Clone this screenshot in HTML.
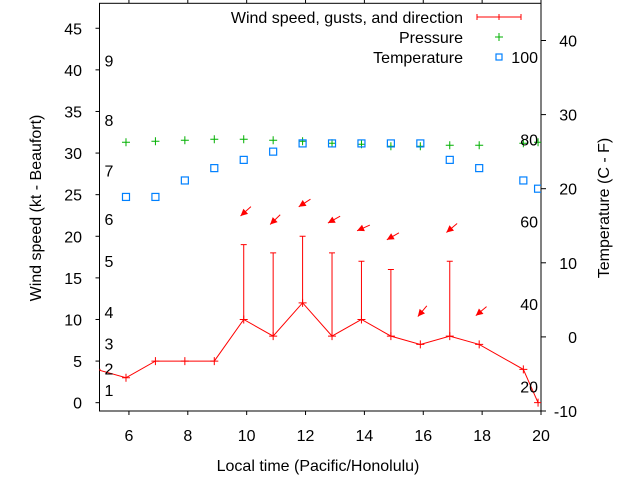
<!DOCTYPE html>
<html><head><meta charset="utf-8"><style>
html,body{margin:0;padding:0;background:#fff}
svg{display:block;font-family:"Liberation Sans",Arial,sans-serif;font-size:16px}
</style></head><body>
<svg id="chart" width="640" height="480" viewBox="0 0 640 480">
<g id="grid"></g>
<g id="marks"></g>
<g id="labels"></g>
</svg>
<script>
const times=[4.9,5.9,6.9,7.9,8.9,9.9,10.9,11.9,12.9,13.9,14.9,15.9,16.9,17.9,19.4,19.9];
const wind=[4,3,5,5,5,10,8,12,8,10,8,7,8,7,4,0];
const gusts=[null,null,null,null,null,19,18,20,18,17,16,null,17,null,null,null];
const dirs=[null,null,null,null,null,48,46,57,61,66,60,40,50,50,null,null];
const tempF=[null,66,66,70,73,75,77,79,79,79,79,79,75,73,70,68];
const pressure=[null,1015.0,1015.5,1016.0,1016.5,1016.5,1016.0,1015.5,1014.5,1014.0,1013.0,1013.0,1013.5,1013.5,1014.5,1015.0];
const xTicks=[6,8,10,12,14,16,18,20];
const yTicks=[0,5,10,15,20,25,30,35,40,45];
const y2Ticks=[-10,0,10,20,30,40];
const beaufort=[["1",1.5],["2",4.1],["3",7.1],["4",10.9],["5",17],["6",22.1],["7",27.9],["8",34],["9",41.1]];
const fLabels=[20,40,60,80,100];

const L=99.5,R=541,T=3.3,B=411;
const X=t=>L+(t-5)/15*(R-L);
const Y=v=>B-(v+1)/49*(B-T);
const Y2=c=>B-(c+10)/50*(B-40.5);
const YP=p=>142.3-(p-1015)*2;
const FtoC=f=>(f-32)*5/9;
const NS="http://www.w3.org/2000/svg";
function mk(tag,attrs,parent,txt){const e=document.createElementNS(NS,tag);for(const k in attrs)e.setAttribute(k,attrs[k]);if(txt!==undefined)e.textContent=txt;parent.appendChild(e);return e;}
const grid=document.getElementById('grid'),marks=document.getElementById('marks'),labels=document.getElementById('labels');

const defs=mk('defs',{},grid);const cp=mk('clipPath',{id:'clip'},defs);mk('rect',{x:L,y:T,width:R-L,height:B-T},cp);

let e=mk('rect',{x:L,y:T,width:R-L,height:B-T,fill:'none',stroke:'#000','stroke-width':1},grid);


xTicks.forEach(t=>{
 mk('line',{x1:X(t),x2:X(t),y1:B,y2:B+4,stroke:'#000'},grid);
 mk('line',{x1:X(t),x2:X(t),y1:T,y2:T-4,stroke:'#000'},grid);
 const tx=mk('text',{x:X(t),y:441,'text-anchor':'middle'},labels,String(t));
 
 
});
yTicks.forEach(v=>{
 mk('line',{x1:L-4,x2:L,y1:Y(v),y2:Y(v),stroke:'#000'},grid);
 const tx=mk('text',{x:82,y:Y(v)+6,'text-anchor':'end'},labels,String(v));
 
 
});
y2Ticks.forEach(v=>{
 mk('line',{x1:R,x2:R+5,y1:Y2(v),y2:Y2(v),stroke:'#000'},grid);
 const tx=mk('text',{x:577,y:Y2(v)+6,'text-anchor':'end'},labels,String(v));
 
 
});
beaufort.forEach(b=>{
 const tx=mk('text',{x:109,y:Y(b[1])+6,'text-anchor':'middle'},labels,b[0]);
 
 
});
fLabels.forEach(f=>{
 const tx=mk('text',{x:538,y:Y2(FtoC(f))+6,'text-anchor':'end'},labels,String(f));
 
 
});

const g=mk('g',{'clip-path':'url(#clip)'},marks);
times.forEach((t,i)=>{if(pressure[i]===null)return;const x=X(t),y=YP(pressure[i]);
 const p=mk('path',{d:`M${x-4} ${y}H${x+4}M${x} ${y-4}V${y+4}`,stroke:'#00b000','stroke-width':1},g);
 
 
});
times.forEach((t,i)=>{if(tempF[i]===null)return;const x=X(t),y=Y2(FtoC(tempF[i]));
 const r=mk('rect',{x:x-3.5,y:y-3.5,width:7,height:7,fill:'none',stroke:'#0080ff','stroke-width':1.2},g);
 
 
});
const wl=mk('polyline',{points:times.map((t,i)=>X(t)+','+Y(wind[i])).join(' '),fill:'none',stroke:'#f00','stroke-width':1},g);


times.forEach((t,i)=>{const x=X(t),y=Y(wind[i]);
 const p=mk('path',{d:`M${x-4} ${y}H${x+4}M${x} ${y-4}V${y+4}`,stroke:'#f00'},g);
 
 
 if(gusts[i]!==null){const yg=Y(gusts[i]);
  const b=mk('path',{d:`M${x} ${y}V${yg}M${x-3} ${yg}H${x+3}`,stroke:'#f00'},g);
  
  
 }
 if(dirs[i]!==null){
  const top=Math.max(wind[i],gusts[i]||0)+4;
  const cy=Y(top),cx=x+2;
  const a=dirs[i]*Math.PI/180,s=Math.sin(a),c=Math.cos(a),h=7;
  const hx=cx-s*h,hy=cy+c*h,tx=cx+s*h,ty=cy-c*h;
  const px=-c,py=-s;
  const ar=mk('g',{},g);
  
  
  mk('line',{x1:tx,y1:ty,x2:hx,y2:hy,stroke:'#f00'},ar);
  const bx=hx+s*7,by=hy-c*7;
  mk('polygon',{points:`${hx},${hy} ${bx+px*3.5},${by+py*3.5} ${bx-px*3.5},${by-py*3.5}`,fill:'#f00'},ar);
 }
});

let t1=mk('text',{x:463,y:23,'text-anchor':'end'},labels,'Wind speed, gusts, and direction');

let l1=mk('path',{d:'M477 17H521M477 14V20M521 14V20M499 14V20',stroke:'#f00'},labels);

let t2=mk('text',{x:463,y:43,'text-anchor':'end'},labels,'Pressure');

let l2=mk('path',{d:'M495 37H503M499 33V41',stroke:'#00b000'},labels);

let t3=mk('text',{x:463,y:63,'text-anchor':'end'},labels,'Temperature');

let l3=mk('rect',{x:496,y:54,width:6,height:6,fill:'none',stroke:'#0080ff','stroke-width':1.2},labels);


let xt=mk('text',{x:318,y:471,'text-anchor':'middle'},labels,'Local time (Pacific/Honolulu)');

let yt=mk('text',{x:0,y:0,'text-anchor':'middle',transform:'translate(41,208) rotate(-90)'},labels,'Wind speed (kt - Beaufort)');

let y2t=mk('text',{x:0,y:0,'text-anchor':'middle',transform:'translate(609,208) rotate(-90)'},labels,'Temperature (C - F)');

</script>
</body></html>
